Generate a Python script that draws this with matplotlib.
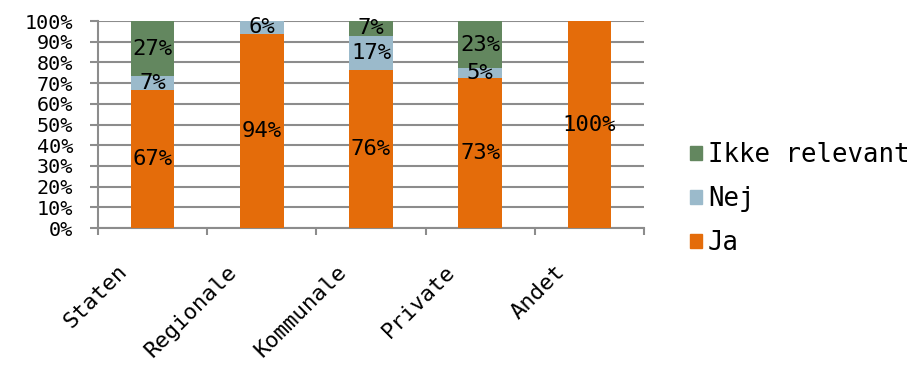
import numpy as np
import matplotlib.pyplot as plt
from matplotlib.patches import Patch
from matplotlib.ticker import PercentFormatter
import matplotlib.transforms as mtransforms

# Andel svar pr. ejerform (procent)
categories = ['Staten', 'Regionale', 'Kommunale', 'Private', 'Andet']
ja = [66.7, 93.8, 76.2, 72.7, 100.0]
nej = [6.7, 6.2, 16.7, 4.6, 0.0]
ikke_relevant = [26.6, 0.0, 7.1, 22.7, 0.0]
series_names = ['Ja', 'Nej', 'Ikke relevant']

colors = {'Ja': '#E46C0A', 'Nej': '#9BBACB', 'Ikke relevant': '#63875F'}
grey = '#8C8C8C'
mono = 'DejaVu Sans Mono'

fig = plt.figure(figsize=(9.13, 3.69), dpi=100)
ax = fig.add_axes([0.1073, 0.382, 0.598, 0.561])

x = np.arange(len(categories)) + 0.5
bottom = np.zeros(len(categories))
for name, vals in zip(series_names, [ja, nej, ikke_relevant]):
    vals = np.array(vals)
    ax.bar(x, vals, width=0.4, bottom=bottom, color=colors[name], zorder=3)
    for xi, b, v in zip(x, bottom, vals):
        if v > 0:
            ax.text(xi, b + v / 2, f'{v:.0f}%', ha='center', va='center',
                    fontsize=16, family=mono, color='black', zorder=4)
    bottom += vals

ax.set_xlim(0, 5)
ax.set_ylim(0, 100)
ax.set_yticks(np.arange(0, 101, 10))
ax.yaxis.set_major_formatter(PercentFormatter(decimals=0))
ax.grid(axis='y', color=grey, linewidth=1.5, zorder=0)

# tick marks on category boundaries, labels at bar centres
ax.set_xticks(np.arange(0, 6))
ax.set_xticklabels([])
ax.set_xticks(x, minor=True)
ax.set_xticklabels(categories, minor=True, rotation=45, ha='right',
                   fontsize=16, family=mono)
ax.tick_params(axis='x', which='minor', length=0, pad=24)
ax.tick_params(axis='x', which='major', length=5, width=1.5, color=grey)
ax.tick_params(axis='y', length=6, width=1.5, color=grey, labelsize=14.5, pad=12)
for lab in ax.get_yticklabels():
    lab.set_family(mono)
shift = mtransforms.ScaledTranslation(-21 / 100, 0, fig.dpi_scale_trans)
for lab in ax.get_xticklabels(minor=True):
    lab.set_transform(lab.get_transform() + shift)

for side in ['top', 'right']:
    ax.spines[side].set_visible(False)
for side in ['left', 'bottom']:
    ax.spines[side].set_color(grey)
    ax.spines[side].set_linewidth(1.5)

handles = [Patch(color=colors[n]) for n in reversed(series_names)]
fig.legend(handles, list(reversed(series_names)), loc='center left',
           bbox_to_anchor=(0.73, 0.46), frameon=False, handlelength=0.47,
           handleheight=0.47, handletextpad=0.25, labelspacing=0.7,
           prop={'family': mono, 'size': 18.5})

fig.savefig('out.png', dpi=100)
